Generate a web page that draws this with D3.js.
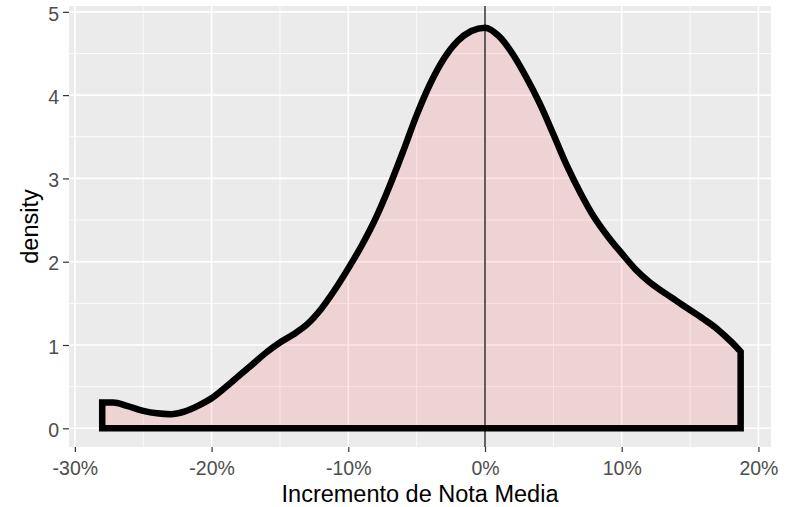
<!DOCTYPE html>
<html>
<head>
<meta charset="utf-8">
<script src="https://cdn.jsdelivr.net/npm/d3@7"></script>
<style>
  html, body { margin: 0; padding: 0; background: #ffffff; }
  svg { display: block; }
</style>
</head>
<body>
<svg id="chart" width="787" height="507"></svg>
<script>
// Density curve (x = Incremento de Nota Media, y = density)
const incremento = [-0.280, -0.272, -0.262, -0.250, -0.240, -0.230, -0.220, -0.210, -0.200, -0.190,
  -0.180, -0.170, -0.160, -0.150, -0.140, -0.130, -0.120, -0.110, -0.100, -0.090,
  -0.080, -0.070, -0.060, -0.050, -0.040, -0.030, -0.020, -0.010, 0.000, 0.010,
  0.020, 0.030, 0.040, 0.050, 0.060, 0.070, 0.080, 0.090, 0.100, 0.110,
  0.120, 0.130, 0.140, 0.150, 0.160, 0.170, 0.180, 0.187];
const density = [0.31, 0.31, 0.27, 0.21, 0.18, 0.17, 0.20, 0.27, 0.36, 0.49,
  0.63, 0.77, 0.91, 1.03, 1.13, 1.25, 1.43, 1.66, 1.92, 2.20,
  2.52, 2.90, 3.32, 3.76, 4.14, 4.44, 4.65, 4.77, 4.81, 4.71,
  4.50, 4.22, 3.90, 3.53, 3.15, 2.82, 2.53, 2.30, 2.10, 1.91,
  1.76, 1.64, 1.53, 1.42, 1.31, 1.19, 1.04, 0.92];
const xTicks = [-0.3, -0.2, -0.1, 0, 0.1, 0.2];
const xMinor = [-0.25, -0.15, -0.05, 0.05, 0.15];
const yTicks = [0, 1, 2, 3, 4, 5];
const yMinor = [0.5, 1.5, 2.5, 3.5, 4.5];
const xTitle = "Incremento de Nota Media";
const yTitle = "density";
const refLine = 0;

const svg = d3.select("#chart");
const P = {left: 69, right: 771, top: 6, bottom: 447};

const x = d3.scaleLinear().domain([-0.3043, 0.2092]).range([P.left, P.right]);
const y = d3.scaleLinear().domain([-0.2245, 5.07]).range([P.bottom, P.top]);

// panel
svg.append("rect").attr("x", P.left).attr("y", P.top)
  .attr("width", P.right - P.left).attr("height", P.bottom - P.top)
  .attr("fill", "#EBEBEB");

const grid = svg.append("g");
grid.selectAll(".xmin").data(xMinor).enter().append("line")
  .attr("x1", d => x(d)).attr("x2", d => x(d)).attr("y1", P.top).attr("y2", P.bottom)
  .attr("stroke", "#fff").attr("stroke-width", 0.8);
grid.selectAll(".ymin").data(yMinor).enter().append("line")
  .attr("y1", d => y(d)).attr("y2", d => y(d)).attr("x1", P.left).attr("x2", P.right)
  .attr("stroke", "#fff").attr("stroke-width", 0.8);
grid.selectAll(".xmaj").data(xTicks).enter().append("line")
  .attr("x1", d => x(d)).attr("x2", d => x(d)).attr("y1", P.top).attr("y2", P.bottom)
  .attr("stroke", "#fff").attr("stroke-width", 1.6);
grid.selectAll(".ymaj").data(yTicks).enter().append("line")
  .attr("y1", d => y(d)).attr("y2", d => y(d)).attr("x1", P.left).attr("x2", P.right)
  .attr("stroke", "#fff").attr("stroke-width", 1.6);

// density area
const pts = incremento.map((v, i) => [v, density[i]]);
const area = d3.area()
  .x(d => x(d[0])).y0(y(0)).y1(d => y(d[1]))
  .curve(d3.curveMonotoneX);
svg.append("path").datum(pts)
  .attr("d", area)
  .attr("fill", "rgba(255,0,0,0.1)")
  .attr("stroke", "#000")
  .attr("stroke-width", 6.5)
  .attr("stroke-linejoin", "miter");

// reference line
svg.append("line")
  .attr("x1", x(refLine)).attr("x2", x(refLine)).attr("y1", P.top).attr("y2", P.bottom)
  .attr("stroke", "#000").attr("stroke-width", 1.2);

// axes
const font = "'Liberation Sans', Arial, sans-serif";
const xAxis = d3.axisBottom(x).tickValues(xTicks).tickSize(5).tickPadding(9)
  .tickFormat(d => Math.round(d * 100) + "%");
const gx = svg.append("g").attr("transform", `translate(0,${P.bottom})`).call(xAxis);
const yAxis = d3.axisLeft(y).tickValues(yTicks).tickSize(6).tickPadding(4)
  .tickFormat(d3.format("d"));
const gy = svg.append("g").attr("transform", `translate(${P.left},0)`).call(yAxis);
[gx, gy].forEach(g => {
  g.select(".domain").remove();
  g.selectAll(".tick line").attr("stroke", "#333333").attr("stroke-width", 1.2);
  g.selectAll(".tick text").attr("fill", "#4D4D4D")
    .style("font-family", font).style("font-size", "19.5px");
});
gy.selectAll(".tick text").attr("dy", "0.42em");
gx.selectAll(".tick text").attr("dy", "0.72em");

svg.append("text").attr("x", (P.left + P.right) / 2).attr("y", 502)
  .attr("text-anchor", "middle").style("font-family", font).style("font-size", "23.5px")
  .attr("fill", "#000").text(xTitle);
svg.append("text")
  .attr("transform", `translate(38,${(P.top + P.bottom) / 2}) rotate(-90)`)
  .attr("text-anchor", "middle").style("font-family", font).style("font-size", "23.5px")
  .attr("fill", "#000").text(yTitle);
</script>
</body>
</html>
